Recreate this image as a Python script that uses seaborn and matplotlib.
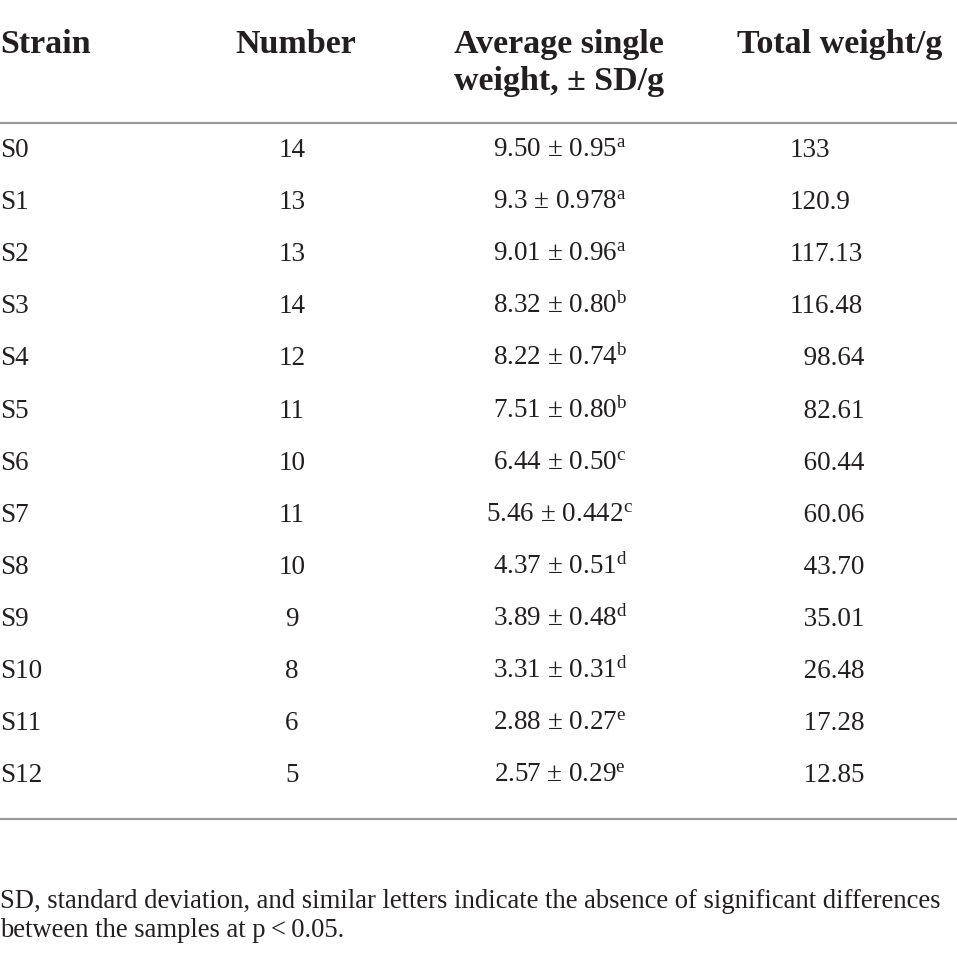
import matplotlib
matplotlib.use("Agg")
import matplotlib.pyplot as plt
import seaborn as sns

# table data
strains = ["S0", "S1", "S2", "S3", "S4", "S5", "S6", "S7", "S8", "S9", "S10", "S11", "S12"]
numbers = [14, 13, 13, 14, 12, 11, 10, 11, 10, 9, 8, 6, 5]
mean_txt = ["9.50", "9.3", "9.01", "8.32", "8.22", "7.51", "6.44", "5.46", "4.37", "3.89", "3.31", "2.88", "2.57"]
sd_txt = ["0.95", "0.978", "0.96", "0.80", "0.74", "0.80", "0.50", "0.442", "0.51", "0.48", "0.31", "0.27", "0.29"]
letters = ["a", "a", "a", "b", "b", "b", "c", "c", "d", "d", "d", "e", "e"]
total_txt = ["133", "120.9", "117.13", "116.48", "98.64", "82.61", "60.44", "60.06", "43.70", "35.01", "26.48", "17.28", "12.85"]

headers = ["Strain", "Number", ["Average single", "weight, \u00b1 SD/g"], "Total weight/g"]
footnote = ["SD, standard deviation, and similar letters indicate the absence of significant differences",
            "between the samples at p\u2009<\u20090.05."]

sns.set_theme(style="white")
plt.rcParams["font.family"] = ["Liberation Serif", "DejaVu Serif"]
plt.rcParams["mathtext.fontset"] = "custom"
plt.rcParams["mathtext.rm"] = "Liberation Serif"
plt.rcParams["mathtext.it"] = "Liberation Serif:italic"

ink = "#231f20"
rule = "#9a9a9a"

fig = plt.figure(figsize=(9.57, 9.59), dpi=100)
ax = fig.add_axes([0, 0, 1, 1])
ax.set_xlim(0, 957)
ax.set_ylim(959, 0)
ax.axis("off")

# header
hsize = 24.5
hkw = dict(va="baseline", fontsize=hsize, fontweight="bold", color=ink)
ax.text(0, 53, headers[0], ha="left", **hkw)
ax.text(296, 53, headers[1], ha="center", **hkw)
ax.text(559, 53, headers[2][0], ha="center", **hkw)
ax.text(559, 90, headers[2][1], ha="center", **hkw)
ax.text(840, 53, headers[3], ha="center", **hkw)

ax.axhline(123, color=rule, lw=1.6)
ax.axhline(819, color=rule, lw=1.6)

# body rows
bsize = 19.5
y0, pitch = 157, 52.1
for i, s in enumerate(strains):
    y = y0 + i * pitch
    ax.text(0, y, s, ha="left", va="baseline", fontsize=bsize, color=ink)
    ax.text(292, y, str(numbers[i]), ha="center", va="baseline", fontsize=bsize, color=ink)
    cell = f"{mean_txt[i]} \u00b1 {sd_txt[i]}" + r"$^{\mathrm{" + letters[i] + "}}$"
    ax.text(560, y, cell, ha="center", va="baseline", fontsize=bsize, color=ink)
    tot = total_txt[i]
    if len(tot.split(".")[0]) < 3:
        tot = "\u2007" + tot
    ax.text(790, y, tot, ha="left", va="baseline", fontsize=bsize, color=ink)

# footnote
ax.text(0, 908, footnote[0], ha="left", va="baseline", fontsize=19.2, color=ink)
ax.text(0, 937, footnote[1], ha="left", va="baseline", fontsize=19.2, color=ink)

fig.savefig("out.png", dpi=100)
